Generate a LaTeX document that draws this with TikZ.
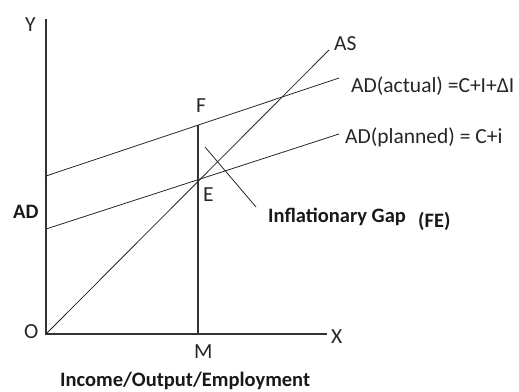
\documentclass[tikz,border=0pt]{standalone}
\usepackage{fontspec}
\setmainfont{Carlito}
\begin{document}
\begin{tikzpicture}[x=1pt,y=-1pt,
  axis/.style={draw=black!80,line width=1.3pt},
  curve/.style={draw=black!85,line width=0.8pt},
  lbl/.style={inner sep=0pt,font=\fontsize{21.5}{24}\selectfont,text=black!85},
  blbl/.style={inner sep=0pt,font=\fontsize{20.5}{23}\selectfont\bfseries,text=black!90}]
\useasboundingbox (0,0) rectangle (519,391);
\coordinate (O) at (46,334);
\coordinate (Ytop) at (46,19);
\coordinate (Xend) at (327,334);
\coordinate (A1) at (46,176);
\coordinate (A2) at (339,78);
\coordinate (P1) at (46,229);
\coordinate (P2) at (339,134);
\coordinate (AS) at (329,50);
\coordinate (F) at (198,125);
\coordinate (E) at (198,180);
\coordinate (M) at (198,334);
\coordinate (G1) at (205,147);
\coordinate (G2) at (256,207);
\draw[axis] (Ytop) -- (O) -- (Xend);
\draw[curve] (A1) -- (A2);
\draw[curve] (P1) -- (P2);
\draw[curve] (O) -- (AS);
\draw[axis,line width=1.1pt] (F) -- (M);
\draw[curve] (G1) -- (G2);
\node[lbl,anchor=west] (ly) at (25,25) {Y};
\node[lbl,anchor=west] (lo) at (24,332) {O};
\node[lbl,anchor=west] (lx) at (331,337) {X};
\node[lbl,anchor=west] (lm) at (194,352) {M};
\node[lbl,anchor=west] (lf) at (196,106) {F};
\node[lbl,anchor=west] (le) at (203,195) {E};
\node[blbl,anchor=west] (lad) at (13,212) {AD};
\node[lbl,anchor=west] (las) at (334,44) {AS};
\node[lbl,anchor=west] (lact) at (351,86) {AD(actual) =C+I+ΔI};
\node[lbl,anchor=west] (lpl) at (345,137) {AD(planned) = C+i};
\node[blbl,anchor=west] (lgap) at (268,217) {Inflationary Gap};
\node[blbl,anchor=west] (lfe) at (418,221) {(FE)};
\node[blbl,anchor=west] (linc) at (60,381) {Income/Output/Employment};
\end{tikzpicture}
\end{document}
